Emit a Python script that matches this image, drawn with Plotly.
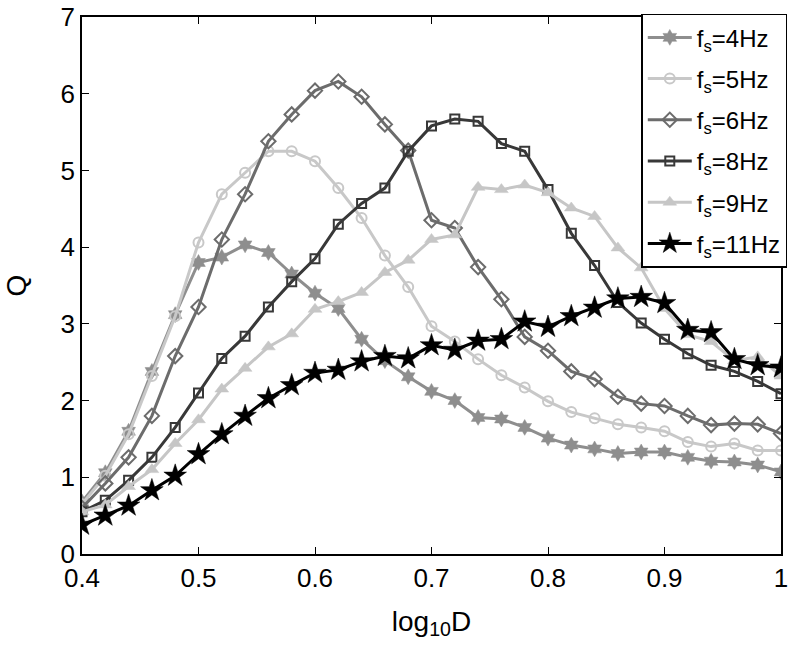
import plotly.graph_objects as go

x_vals = [0.40, 0.42, 0.44, 0.46, 0.48, 0.50, 0.52, 0.54, 0.56, 0.58, 0.60,
          0.62, 0.64, 0.66, 0.68, 0.70, 0.72, 0.74, 0.76, 0.78, 0.80,
          0.82, 0.84, 0.86, 0.88, 0.90, 0.92, 0.94, 0.96, 0.98, 1.00]

q_4hz = [0.68, 1.06, 1.60, 2.38, 3.12, 3.80, 3.87, 4.03, 3.93, 3.65, 3.40,
         3.20, 2.80, 2.52, 2.31, 2.12, 2.00, 1.78, 1.76, 1.65, 1.51,
         1.42, 1.37, 1.31, 1.33, 1.33, 1.26, 1.21, 1.20, 1.16, 1.07]
q_5hz = [0.65, 1.02, 1.56, 2.32, 3.10, 4.06, 4.69, 4.97, 5.25, 5.25, 5.12,
         4.77, 4.38, 3.89, 3.48, 2.97, 2.77, 2.54, 2.33, 2.17, 1.99,
         1.85, 1.77, 1.69, 1.65, 1.60, 1.46, 1.40, 1.44, 1.35, 1.35]
q_6hz = [0.60, 0.92, 1.26, 1.80, 2.58, 3.22, 4.10, 4.69, 5.38, 5.73, 6.04,
         6.16, 5.96, 5.60, 5.26, 4.35, 4.25, 3.74, 3.32, 2.83, 2.65,
         2.38, 2.28, 2.05, 1.96, 1.93, 1.80, 1.68, 1.70, 1.69, 1.57]
q_8hz = [0.55, 0.70, 0.96, 1.26, 1.65, 2.10, 2.55, 2.84, 3.22, 3.55, 3.85,
         4.30, 4.57, 4.77, 5.25, 5.58, 5.67, 5.64, 5.35, 5.25, 4.75,
         4.18, 3.76, 3.28, 3.01, 2.80, 2.61, 2.46, 2.38, 2.25, 2.09]
q_9hz = [0.55, 0.64, 0.88, 1.10, 1.44, 1.75, 2.15, 2.42, 2.70, 2.87, 3.19,
         3.29, 3.41, 3.67, 3.83, 4.10, 4.16, 4.78, 4.75, 4.81, 4.71,
         4.51, 4.40, 3.99, 3.73, 3.20, 2.86, 2.77, 2.52, 2.57, 2.32]
q_11hz = [0.38, 0.50, 0.63, 0.83, 1.02, 1.30, 1.56, 1.80, 2.03, 2.20, 2.36,
          2.40, 2.51, 2.58, 2.55, 2.72, 2.66, 2.78, 2.80, 3.03, 2.96,
          3.10, 3.21, 3.33, 3.35, 3.27, 2.92, 2.89, 2.54, 2.46, 2.43]

series_names = ["f<sub>s</sub>=4Hz", "f<sub>s</sub>=5Hz", "f<sub>s</sub>=6Hz",
                "f<sub>s</sub>=8Hz", "f<sub>s</sub>=9Hz", "f<sub>s</sub>=11Hz"]
series_values = [q_4hz, q_5hz, q_6hz, q_8hz, q_9hz, q_11hz]
colors = ["#8e8e8e", "#c8c8c8", "#6c6c6c", "#383838", "#c6c6c6", "#000000"]
symbols = ["hexagram", "circle-open", "diamond-open", "square-open",
           "triangle-up", "star"]
msizes = [12, 10, 11, 9, 12, 17]

x_tickvals = [0.4, 0.5, 0.6, 0.7, 0.8, 0.9, 1.0]
x_ticktext = ["0.4", "0.5", "0.6", "0.7", "0.8", "0.9", "1"]
y_tickvals = [0, 1, 2, 3, 4, 5, 6, 7]

fig = go.Figure()
for i, (name, vals) in enumerate(zip(series_names, series_values)):
    fig.add_trace(go.Scatter(
        x=x_vals, y=vals, name=name, mode="lines+markers",
        line=dict(color=colors[i], width=3),
        marker=dict(symbol=symbols[i], size=msizes[i], color=colors[i],
                    line=dict(color=colors[i], width=2 if "open" in symbols[i] else 0.5)),
        legendgroup=str(i),
    ))

font_family = "Liberation Sans, Arial, Helvetica, sans-serif"
fig.update_layout(
    width=796, height=656,
    margin=dict(l=82, r=9, t=17, b=102),
    paper_bgcolor="white", plot_bgcolor="white",
    font=dict(family=font_family, color="black", size=26),
    xaxis=dict(range=[0.4, 1.0], tickvals=x_tickvals, ticktext=x_ticktext,
               ticks="inside", ticklen=7, tickwidth=1.2, tickcolor="black",
               showline=True, linecolor="black", linewidth=1.5, mirror="ticks",
               showgrid=False, zeroline=False, automargin=False,
               title=dict(text="log<sub>10</sub>D", font=dict(size=28), standoff=19),
               tickfont=dict(size=26)),
    yaxis=dict(range=[0, 7], tickvals=y_tickvals,
               ticks="inside", ticklen=7, tickwidth=1.2, tickcolor="black",
               showline=True, linecolor="black", linewidth=1.5, mirror="ticks",
               showgrid=False, zeroline=False, automargin=False,
               title=dict(text="Q", font=dict(size=28), standoff=26),
               tickfont=dict(size=26)),
    legend=dict(x=1.009, y=1.006, xanchor="right", yanchor="top",
                bgcolor="white", bordercolor="black", borderwidth=1.5,
                font=dict(size=24), tracegroupgap=7, traceorder="grouped",
                itemwidth=44),
    showlegend=True,
)

fig.write_html("out.html",
               config={"displayModeBar": False},
               post_script="document.body.style.margin='0';document.body.style.overflow='hidden';")
